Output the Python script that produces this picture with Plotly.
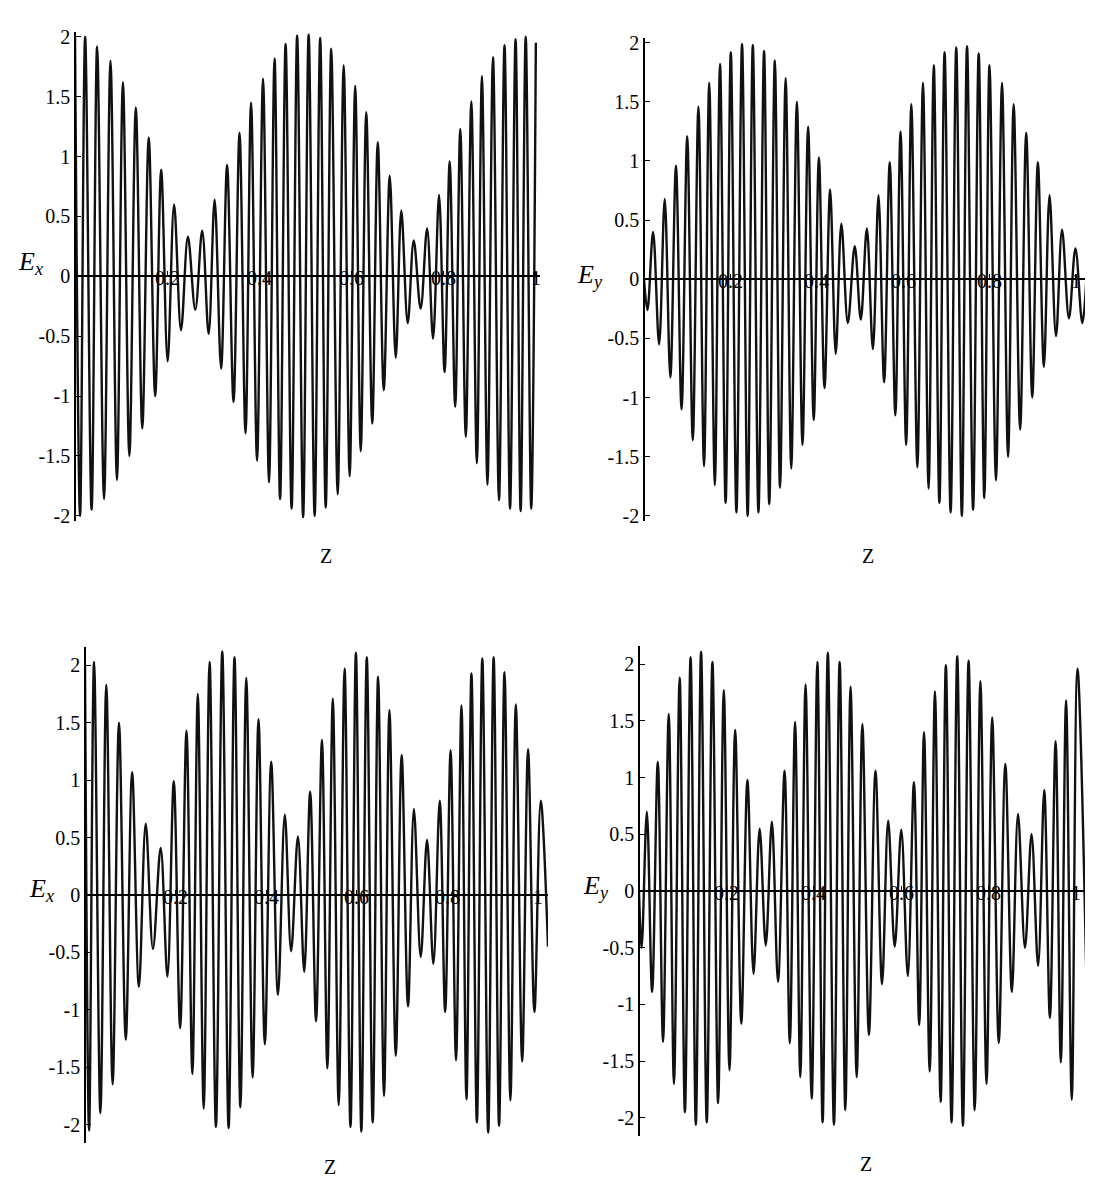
import plotly.graph_objects as go

# ---------------- data ----------------
# Top-left panel: E_x(z)
tl_max_z = [0.000, 0.022, 0.048, 0.077, 0.104, 0.132, 0.160, 0.187, 0.215, 0.245,
            0.276, 0.303, 0.330, 0.357, 0.382, 0.408, 0.433, 0.457,
            0.482, 0.507, 0.532, 0.556, 0.583, 0.608, 0.632, 0.657, 0.683, 0.708,
            0.735, 0.764, 0.790, 0.813, 0.836, 0.860, 0.883, 0.907, 0.932, 0.956, 0.978, 1.000]
tl_max_v = [2.00, 2.00, 1.92, 1.80, 1.62, 1.41, 1.16, 0.89, 0.60, 0.33,
            0.38, 0.64, 0.93, 1.20, 1.45, 1.65, 1.82, 1.94,
            2.01, 2.02, 1.99, 1.90, 1.76, 1.59, 1.37, 1.12, 0.84, 0.55,
            0.30, 0.40, 0.68, 0.96, 1.23, 1.46, 1.67, 1.83, 1.93, 1.98, 2.00, 1.95]
tl_min_z = [0.011, 0.036, 0.063, 0.091, 0.118, 0.146, 0.174, 0.201, 0.230, 0.261,
            0.290, 0.317, 0.344, 0.370, 0.395, 0.421, 0.445,
            0.470, 0.495, 0.520, 0.544, 0.570, 0.596, 0.620, 0.645, 0.670, 0.696,
            0.722, 0.750, 0.777, 0.802, 0.825, 0.848, 0.872, 0.895, 0.920, 0.944, 0.967, 0.990]
tl_min_v = [-2.00, -1.95, -1.86, -1.70, -1.50, -1.27, -1.00, -0.71, -0.45, -0.28,
            -0.48, -0.77, -1.05, -1.31, -1.54, -1.72, -1.86,
            -1.94, -2.01, -2.00, -1.93, -1.82, -1.67, -1.46, -1.23, -0.95, -0.68,
            -0.39, -0.27, -0.52, -0.80, -1.09, -1.34, -1.56, -1.74, -1.87, -1.94, -1.96, -1.94]

# Top-right panel: E_y(z)
tr_max_z = [0.021, 0.048, 0.074, 0.100, 0.126, 0.151, 0.176, 0.201, 0.227, 0.252,
            0.278, 0.303, 0.328, 0.354, 0.380, 0.405, 0.431, 0.457, 0.488, 0.516,
            0.543, 0.569, 0.594, 0.619, 0.646, 0.671, 0.696, 0.723, 0.748, 0.775,
            0.800, 0.829, 0.856, 0.885, 0.912, 0.939, 0.968, 0.999]
tr_max_v = [0.40, 0.68, 0.96, 1.21, 1.46, 1.66, 1.82, 1.92, 1.99, 1.98,
            1.93, 1.85, 1.70, 1.50, 1.29, 1.03, 0.76, 0.47, 0.28, 0.43,
            0.71, 0.99, 1.25, 1.48, 1.66, 1.81, 1.92, 1.96, 1.97, 1.91,
            1.81, 1.66, 1.48, 1.24, 0.99, 0.71, 0.42, 0.26]
tr_min_z = [0.008, 0.035, 0.061, 0.087, 0.113, 0.139, 0.164, 0.189, 0.214, 0.240,
            0.265, 0.290, 0.315, 0.341, 0.367, 0.393, 0.418, 0.444, 0.472, 0.502,
            0.530, 0.556, 0.582, 0.607, 0.633, 0.659, 0.684, 0.710, 0.736, 0.762,
            0.788, 0.815, 0.843, 0.871, 0.899, 0.926, 0.954, 0.984, 1.015]
tr_min_v = [-0.26, -0.55, -0.83, -1.10, -1.36, -1.58, -1.74, -1.89, -1.97, -2.00,
            -1.97, -1.90, -1.76, -1.60, -1.40, -1.19, -0.92, -0.63, -0.37, -0.34,
            -0.59, -0.87, -1.15, -1.40, -1.59, -1.77, -1.89, -1.97, -2.00, -1.95,
            -1.85, -1.70, -1.50, -1.27, -1.00, -0.74, -0.48, -0.33, -0.37]
tr_ends_z = [0.0, 1.030]
tr_ends_v = [0.0, 0.46]

# Bottom-left panel: E_x(z)
bl_max_z = [0.000, 0.020, 0.047, 0.075, 0.104, 0.134, 0.167, 0.196, 0.224, 0.249,
            0.275, 0.303, 0.330, 0.356, 0.383, 0.411, 0.441, 0.470, 0.497, 0.523,
            0.547, 0.573, 0.598, 0.622, 0.647, 0.672, 0.699, 0.726, 0.755, 0.783,
            0.807, 0.831, 0.853, 0.877, 0.902, 0.926, 0.951, 0.978, 1.006]
bl_max_v = [2.00, 2.03, 1.83, 1.50, 1.07, 0.62, 0.41, 0.99, 1.43, 1.75,
            2.03, 2.12, 2.07, 1.89, 1.53, 1.16, 0.70, 0.51, 0.90, 1.35,
            1.71, 1.97, 2.11, 2.07, 1.90, 1.61, 1.22, 0.75, 0.48, 0.82,
            1.26, 1.65, 1.93, 2.06, 2.07, 1.94, 1.66, 1.27, 0.82]
bl_min_z = [0.009, 0.034, 0.061, 0.090, 0.119, 0.150, 0.182, 0.210, 0.237, 0.262,
            0.289, 0.317, 0.343, 0.370, 0.397, 0.426, 0.455, 0.484, 0.510, 0.535,
            0.560, 0.586, 0.610, 0.635, 0.660, 0.686, 0.713, 0.741, 0.769, 0.795,
            0.819, 0.842, 0.865, 0.890, 0.914, 0.939, 0.965, 0.992]
bl_min_v = [-2.05, -1.90, -1.65, -1.26, -0.80, -0.47, -0.71, -1.16, -1.56, -1.86,
            -2.02, -2.03, -1.85, -1.59, -1.30, -0.87, -0.49, -0.67, -1.10, -1.51,
            -1.83, -2.02, -2.06, -1.98, -1.75, -1.40, -0.97, -0.54, -0.60, -1.02,
            -1.44, -1.78, -1.98, -2.07, -2.01, -1.79, -1.45, -1.02]
bl_ends_z = [1.022]
bl_ends_v = [-0.45]

# Bottom-right panel: E_y(z)
br_max_z = [0.018, 0.043, 0.068, 0.093, 0.118, 0.142, 0.168, 0.194, 0.220, 0.248,
            0.276, 0.304, 0.333, 0.357, 0.381, 0.408, 0.432, 0.459, 0.484, 0.511,
            0.541, 0.570, 0.600, 0.629, 0.652, 0.677, 0.702, 0.728, 0.754, 0.781,
            0.808, 0.838, 0.867, 0.898, 0.927, 0.953, 0.977, 1.003]
br_max_v = [0.70, 1.14, 1.56, 1.88, 2.06, 2.11, 2.02, 1.77, 1.42, 0.98,
            0.55, 0.61, 1.06, 1.49, 1.82, 2.02, 2.10, 2.02, 1.80, 1.47,
            1.06, 0.62, 0.54, 0.96, 1.40, 1.76, 1.99, 2.07, 2.03, 1.85,
            1.53, 1.12, 0.68, 0.50, 0.89, 1.32, 1.68, 1.96]
br_min_z = [0.006, 0.030, 0.055, 0.080, 0.105, 0.130, 0.155, 0.181, 0.207, 0.234,
            0.262, 0.290, 0.318, 0.345, 0.369, 0.395, 0.420, 0.446, 0.472, 0.498,
            0.526, 0.556, 0.585, 0.615, 0.641, 0.665, 0.690, 0.715, 0.741, 0.768,
            0.795, 0.823, 0.853, 0.883, 0.913, 0.940, 0.965, 0.990]
br_min_v = [-0.50, -0.89, -1.33, -1.70, -1.95, -2.06, -2.04, -1.87, -1.58, -1.17,
            -0.73, -0.48, -0.80, -1.34, -1.64, -1.83, -2.04, -2.06, -1.93, -1.64,
            -1.27, -0.82, -0.49, -0.75, -1.18, -1.59, -1.86, -2.04, -2.07, -1.93,
            -1.70, -1.34, -0.89, -0.50, -0.66, -1.12, -1.51, -1.84]
br_ends_z = [0.0, 1.030]
br_ends_v = [0.0, -2.00]

x_tick_vals = [0.2, 0.4, 0.6, 0.8, 1]
x_tick_text = ["0.2", "0.4", "0.6", "0.8", "1"]
y_tick_vals = [-2, -1.5, -1, -0.5, 0, 0.5, 1, 1.5, 2]
y_tick_text = ["-2", "-1.5", "-1", "-0.5", "0", "0.5", "1", "1.5", "2"]

panel_labels = ["<i>E</i><sub><i>x</i></sub>", "<i>E</i><sub><i>y</i></sub>",
                "<i>E</i><sub><i>x</i></sub>", "<i>E</i><sub><i>y</i></sub>"]
z_label = "Z"

# ---------------- layout geometry (pixels of the 1093x1181 page) ----------------
W, H = 1093, 1181
panels = [
    dict(px=(67, 532), zero=265, unit=121.0, zmax=1.009, vh=2.04, lab=(22, 252), zl=(318, 548)),
    dict(px=(636, 1086), zero=268, unit=119.5, zmax=1.042, vh=2.04, lab=(582, 265), zl=(860, 548)),
    dict(px=(77, 540), zero=890, unit=116.0, zmax=1.022, vh=2.16, lab=(33, 885), zl=(322, 1165)),
    dict(px=(631, 1083), zero=886, unit=114.6, zmax=1.034, vh=2.16, lab=(588, 882), zl=(858, 1162)),
]

def merge(*pairs):
    pts = []
    for zs, vs in pairs:
        pts.extend(zip(zs, vs))
    pts.sort(key=lambda p: p[0])
    return [p[0] for p in pts], [p[1] for p in pts]

series = [
    merge((tl_max_z, tl_max_v), (tl_min_z, tl_min_v)),
    merge((tr_max_z, tr_max_v), (tr_min_z, tr_min_v), (tr_ends_z, tr_ends_v)),
    merge((bl_max_z, bl_max_v), (bl_min_z, bl_min_v), (bl_ends_z, bl_ends_v)),
    merge((br_max_z, br_max_v), (br_min_z, br_min_v), (br_ends_z, br_ends_v)),
]

FONT = "Liberation Serif, Times New Roman, serif"
fig = go.Figure()
annotations = []
layout = dict(width=W, height=H, margin=dict(l=0, r=0, t=0, b=0),
              paper_bgcolor="white", plot_bgcolor="white", showlegend=False)

for i, (p, (zs, vs)) in enumerate(zip(panels, series)):
    n = "" if i == 0 else str(i + 1)
    top_px = p["zero"] - p["vh"] * p["unit"]
    bot_px = p["zero"] + p["vh"] * p["unit"]
    xd = [p["px"][0] / W, p["px"][1] / W]
    yd = [1 - bot_px / H, 1 - top_px / H]
    zero_pos = (yd[0] + yd[1]) / 2
    fig.add_trace(go.Scatter(x=zs, y=vs, mode="lines", xaxis="x" + n, yaxis="y" + n,
                             line=dict(color="#111111", width=2.4, shape="spline", smoothing=1.0),
                             hoverinfo="skip"))
    layout["xaxis" + n] = dict(domain=xd, range=[0, p["zmax"]], anchor="free", position=zero_pos,
                               showline=True, linecolor="black", linewidth=2,
                               ticks="inside", ticklen=4, tickcolor="black",
                               tickvals=x_tick_vals, showticklabels=False,
                               showgrid=False, zeroline=False)
    layout["yaxis" + n] = dict(domain=yd, range=[-p["vh"], p["vh"]], anchor="free", position=xd[0],
                               showline=True, linecolor="black", linewidth=1.6,
                               ticks="inside", ticklen=5, tickcolor="black",
                               tickvals=y_tick_vals, ticktext=y_tick_text,
                               tickfont=dict(family=FONT, size=20, color="black"),
                               showgrid=False, zeroline=False)
    for tv, tt in zip(x_tick_vals, x_tick_text):
        annotations.append(dict(x=tv, y=0, xref="x" + n, yref="y" + n, text=tt,
                                showarrow=False, xanchor="center", yanchor="middle",
                                yshift=-2, font=dict(family=FONT, size=20, color="black")))
    annotations.append(dict(x=p["lab"][0] / W, y=1 - p["lab"][1] / H, xref="paper", yref="paper",
                            text=panel_labels[i], showarrow=False, xanchor="center", yanchor="middle",
                            font=dict(family=FONT, size=26, color="black")))
    annotations.append(dict(x=p["zl"][0] / W, y=1 - p["zl"][1] / H, xref="paper", yref="paper",
                            text=z_label, showarrow=False, xanchor="center", yanchor="middle",
                            font=dict(family=FONT, size=20, color="black")))

layout["annotations"] = annotations
fig.update_layout(**layout)
fig.write_html("out.html")
